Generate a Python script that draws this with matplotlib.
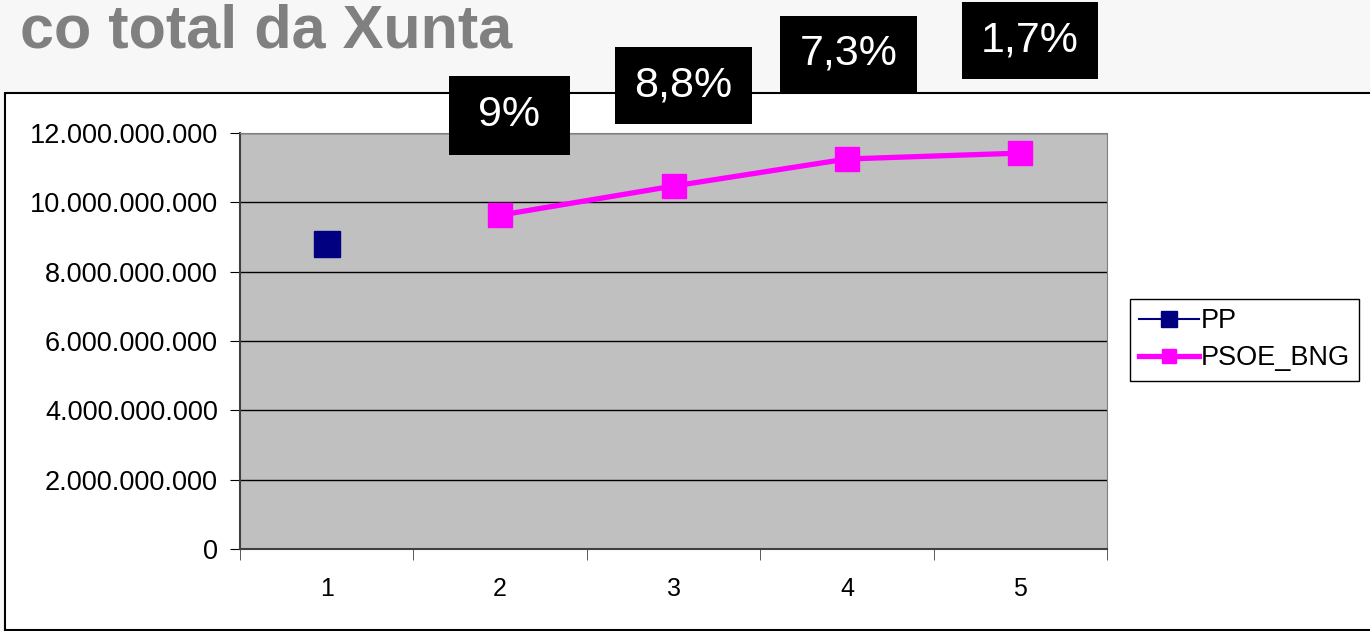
import matplotlib
matplotlib.use('Agg')
import matplotlib.pyplot as plt
from matplotlib import font_manager
from matplotlib.patches import Rectangle
from matplotlib.ticker import FuncFormatter, MultipleLocator, FixedLocator

# data
years = [1, 2, 3, 4, 5]
ppX = [1]
ppValues = [8.80e9]
psoeX = [2, 3, 4, 5]
psoeValues = [9.63e9, 10.47e9, 11.25e9, 11.42e9]
growthLabels = ['9%', '8,8%', '7,3%', '1,7%']

W, H = 1370, 631

# narrow font if there is one
try:
    font_manager.findfont('Liberation Sans Narrow', fallback_to_default=False)
    narrow = 'Liberation Sans Narrow'
    titleSize, boxSize = 52, 35
except Exception:
    narrow = 'Liberation Sans'
    titleSize, boxSize = 44, 31

plt.rcParams['font.family'] = ['Liberation Sans', 'DejaVu Sans']

fig = plt.figure(figsize=(W / 100, H / 100), dpi=100)
fig.patch.set_facecolor('#f7f7f7')

# white chart frame
fig.patches.append(Rectangle((5 / W, 1 / H), 1.1, (630 - 93) / H, transform=fig.transFigure,
                             facecolor='white', edgecolor='black', linewidth=1.5, zorder=-1))

fig.text(20 / W, 1 - 48 / H, 'co total da Xunta', fontsize=titleSize, fontweight='bold',
         color='#808080', family=narrow, va='baseline', ha='left')

ax = fig.add_axes([240 / W, (H - 549) / H, (1107 - 240) / W, (549 - 133) / H])
ax.set_facecolor('#c0c0c0')
ax.set_xlim(0.5, 5.5)
ax.set_ylim(0, 12e9)

ax.plot(ppX, ppValues, color='#000080', marker='s', markersize=19, linewidth=1.5, label='PP')
ax.plot(psoeX, psoeValues, color='#ff00ff', marker='s', markersize=17, linewidth=3.8,
        label='PSOE_BNG')

ax.yaxis.set_major_locator(MultipleLocator(2e9))
ax.yaxis.set_major_formatter(FuncFormatter(lambda v, p: f'{int(v):,}'.replace(',', '.')))
ax.grid(axis='y', color='black', linewidth=1)
ax.set_axisbelow(True)

ax.set_xticks(years)
ax.xaxis.set_minor_locator(FixedLocator([0.5, 1.5, 2.5, 3.5, 4.5, 5.5]))
ax.tick_params(axis='x', which='major', length=0, labelsize=18, pad=20)
ax.tick_params(axis='x', which='minor', length=8, direction='out', color='#404040')
ax.tick_params(axis='y', length=7, direction='out', labelsize=19.5, pad=9)

for side in ['top', 'right']:
    ax.spines[side].set_color('#808080')
for side in ['left', 'bottom']:
    ax.spines[side].set_color('#404040')
    ax.spines[side].set_linewidth(1.5)

leg = ax.legend(loc='upper left', bbox_to_anchor=(1130 / W, 1 - 299 / H), bbox_transform=fig.transFigure,
                fontsize=19.5, frameon=True, fancybox=False, edgecolor='black', framealpha=1,
                handlelength=2.2, handletextpad=0.05, borderaxespad=0, borderpad=0.35,
                labelspacing=0.4, markerscale=0.6)
leg.get_frame().set_linewidth(1)

# black boxes with growth rates
boxes = [(449, 76, 570, 155), (615, 47, 752, 124), (780, 16, 917, 92), (962, 2, 1098, 79)]
for (x0, y0, x1, y1), lab in zip(boxes, growthLabels):
    fig.patches.append(Rectangle((x0 / W, 1 - y1 / H), (x1 - x0) / W, (y1 - y0) / H,
                                 transform=fig.transFigure, facecolor='black', edgecolor='none',
                                 zorder=5))
    fig.text((x0 + x1) / 2 / W, 1 - (y0 + y1) / 2 / H, lab, color='white', fontsize=boxSize,
             family=narrow, ha='center', va='center', zorder=6)

fig.savefig('out.png', dpi=100, facecolor=fig.get_facecolor())
